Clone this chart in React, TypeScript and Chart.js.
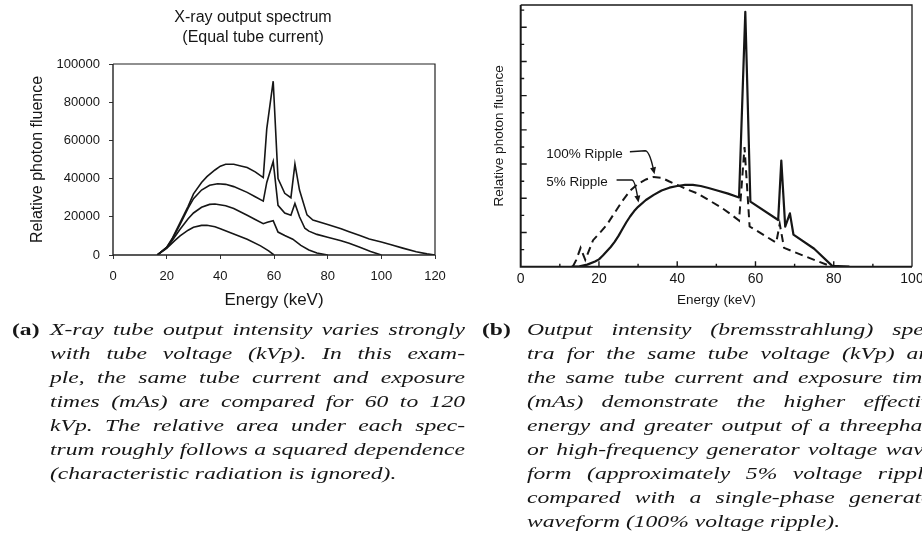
import React, { useEffect, useMemo, useRef } from 'react';
import { Chart, registerables } from 'chart.js';

Chart.register(...registerables);

// ---------------- Panel (a): X-ray output spectrum, equal tube current ----------------
const seriesLabelsA = ['60 kVp', '80 kVp', '100 kVp', '120 kVp'];

const energy60 = [16.5, 20, 23, 25, 28, 30, 33, 35, 38, 40, 45, 50, 55, 58, 60];
const fluence60 = [0, 3500, 7500, 10000, 13000, 14500, 15500, 15600, 14800, 13800, 11000, 8200, 4800, 2200, 0];

const energy80 = [16.5, 20, 22, 25, 28, 30, 33, 36, 38, 42, 45, 50, 53, 56, 57.5, 59.7, 61.5, 64, 67, 70, 73, 76, 80];
const fluence80 = [0, 3800, 7500, 13500, 19000, 22000, 25000, 26500, 26700, 25800, 24300, 20800, 18600, 16400, 17200, 18000, 12000, 10200, 8300, 5000, 2600, 1000, 0];

const energy100 = [16.5, 20, 22, 25, 28, 30, 33, 36, 39, 42, 45, 50, 53, 56, 57.3, 59.7, 61.5, 64, 66.3, 67.8, 69.5, 71.5, 73, 76, 80, 85, 88, 92, 96, 100];
const fluence100 = [0, 4000, 8000, 16000, 24500, 29500, 34000, 36500, 37300, 37000, 35800, 32800, 30500, 28200, 38000, 49000, 26000, 22000, 20800, 27000, 20000, 14000, 12500, 10800, 9300, 7500, 6100, 4000, 1800, 0];

const energy120 = [16.5, 20, 22, 25, 28, 30, 33, 35, 38, 40, 42, 45, 48, 50, 53, 56, 57.3, 59.7, 61.5, 64, 66.3, 67.8, 69.5, 72.3, 74.5, 80, 85, 88, 92, 95.5, 100, 104, 108, 113, 117, 120];
const fluence120 = [0, 4000, 8500, 17000, 25500, 32000, 38000, 41000, 44500, 46500, 47500, 47500, 46500, 45800, 43500, 40500, 66000, 91000, 40000, 32300, 30000, 47600, 34000, 21000, 18300, 16000, 13800, 12200, 10200, 8400, 6800, 5200, 3600, 1700, 600, 0];

const xTicksA = [0, 20, 40, 60, 80, 100, 120];
const yTicksA = [0, 20000, 40000, 60000, 80000, 100000];
const titleA = ['X-ray output spectrum', '(Equal tube current)'];

// ---------------- Panel (b): 5% vs 100% ripple ----------------
const energySolid = [13, 15, 17, 19, 20, 21, 22, 23, 24, 25, 26, 27, 28, 29, 30, 32, 34, 36, 38, 40, 42, 44, 46, 48, 50, 53, 55.8, 57.4, 58.7, 65.8, 66.6, 67.6, 68.8, 69.7, 75, 79.6, 84];
const fluenceSolid = [0, 0.02, 0.12, 0.3, 0.43, 0.65, 0.9, 1.15, 1.45, 1.8, 2.2, 2.6, 2.95, 3.25, 3.5, 3.9, 4.2, 4.45, 4.62, 4.72, 4.78, 4.78, 4.72, 4.6, 4.47, 4.27, 4.05, 14.9, 3.8, 2.73, 6.2, 2.34, 3.12, 1.88, 1.05, 0.05, 0];

const energyDashed = [13.3, 14.2, 15.3, 16.5, 18.5, 20.5, 22, 24, 26, 28, 30, 32, 34, 36, 38, 40, 42.5, 45, 48, 51, 53.5, 55.8, 57.2, 58.5, 60, 65.3, 66.2, 67.3, 70, 75, 79.5];
const fluenceDashed = [0, 0.4, 1.1, 0.4, 1.55, 2.05, 2.45, 3.15, 3.85, 4.45, 4.85, 5.1, 5.25, 5.2, 4.98, 4.78, 4.52, 4.3, 3.9, 3.5, 3.1, 2.7, 7.0, 2.35, 2.15, 1.4, 2.5, 1.1, 0.85, 0.4, 0];

const xTicksB = [0, 20, 40, 60, 80, 100];
const xMarksB = [10, 20, 30, 40, 50, 60, 70, 80, 90];
const yMarksB = [1, 2, 3, 4, 5, 6, 7, 8, 9, 10, 11, 12, 13, 14, 15];
const yMaxB = 15.3;

// annotation anchors in data units (keV, relative fluence)
const rippleNotes = [
  { text: '100% Ripple', textAt: [6.5, 6.55], start: [27.9, 6.72], bend: [31.8, 6.78], tip: [34.2, 5.4] },
  { text: '5% Ripple', textAt: [6.5, 4.94], start: [24.5, 5.07], bend: [28.4, 5.07], tip: [30.1, 3.75] },
];

// ---------------- Captions ----------------
const captionA = [
  'X-ray tube output intensity varies strongly',
  'with tube voltage (kVp). In this exam-',
  'ple, the same tube current and exposure',
  'times (mAs) are compared for 60 to 120',
  'kVp. The relative area under each spec-',
  'trum roughly follows a squared dependence',
  '(characteristic radiation is ignored).',
];
const captionB = [
  'Output intensity (bremsstrahlung) spec-',
  'tra for the same tube voltage (kVp) and',
  'the same tube current and exposure times',
  '(mAs) demonstrate the higher effective',
  'energy and greater output of a threephase',
  'or high-frequency generator voltage wave-',
  'form (approximately 5% voltage ripple)',
  'compared with a single-phase generator',
  'waveform (100% voltage ripple).',
];

const SANS = '"Liberation Sans", Arial, Helvetica, sans-serif';
const SERIF = '"Liberation Serif", "Times New Roman", serif';
const INK = '#161616';
const CAP_SIZE = 16;
const CAP_LINE = 24;
const CAP_W = 415;

const toPoints = (xs: number[], ys: number[]) => xs.map((x, i) => ({ x, y: ys[i] }));

const framePlugin = {
  id: 'frame',
  afterDatasetsDraw(chart: any, _args: any, opts: any) {
    const { ctx, chartArea: a } = chart;
    ctx.save();
    ctx.strokeStyle = opts.color || '#222';
    ctx.lineWidth = opts.thin || 1.2;
    ctx.beginPath();
    ctx.moveTo(a.left, a.top);
    ctx.lineTo(a.right, a.top);
    ctx.lineTo(a.right, a.bottom);
    ctx.stroke();
    ctx.lineWidth = opts.thick || 1.2;
    ctx.beginPath();
    ctx.moveTo(a.left, a.top);
    ctx.lineTo(a.left, a.bottom);
    ctx.lineTo(a.right, a.bottom);
    ctx.stroke();
    ctx.restore();
  },
};

const inwardTicksPlugin = {
  id: 'inwardTicks',
  afterDatasetsDraw(chart: any) {
    const { ctx, chartArea: a, scales } = chart;
    ctx.save();
    ctx.strokeStyle = INK;
    ctx.lineWidth = 1.4;
    ctx.beginPath();
    yMarksB.forEach((v) => {
      const y = scales.y.getPixelForValue(v);
      const len = v % 2 === 0 ? 6 : 3.5;
      ctx.moveTo(a.left, y);
      ctx.lineTo(a.left + len, y);
    });
    xMarksB.forEach((v) => {
      const x = scales.x.getPixelForValue(v);
      const len = v % 20 === 0 ? 5.5 : 3;
      ctx.moveTo(x, a.bottom);
      ctx.lineTo(x, a.bottom - len);
    });
    ctx.stroke();
    ctx.restore();
  },
};

const notesPlugin = {
  id: 'rippleNotes',
  afterDatasetsDraw(chart: any) {
    const { ctx, scales } = chart;
    const px = (p: number[]) => [scales.x.getPixelForValue(p[0]), scales.y.getPixelForValue(p[1])];
    ctx.save();
    ctx.fillStyle = INK;
    ctx.strokeStyle = INK;
    ctx.lineWidth = 1.4;
    ctx.font = `13.5px ${SANS}`;
    ctx.textAlign = 'left';
    ctx.textBaseline = 'middle';
    rippleNotes.forEach((n) => {
      const [tx, ty] = px(n.textAt);
      ctx.fillText(n.text, tx, ty);
      const [sx, sy] = px(n.start);
      const [bx, by] = px(n.bend);
      const [kx, ky] = px(n.tip);
      const cx = bx + (kx - bx) * 0.45;
      const cy = by;
      const ang = Math.atan2(ky - cy, kx - cx);
      const head = 7;
      const ex = kx - Math.cos(ang) * head * 0.8;
      const ey = ky - Math.sin(ang) * head * 0.8;
      ctx.beginPath();
      ctx.moveTo(sx, sy);
      ctx.lineTo(bx, by);
      ctx.quadraticCurveTo(cx, cy, ex, ey);
      ctx.stroke();
      ctx.beginPath();
      ctx.moveTo(kx, ky);
      ctx.lineTo(kx - Math.cos(ang) * head + Math.sin(ang) * 3, ky - Math.sin(ang) * head - Math.cos(ang) * 3);
      ctx.lineTo(kx - Math.cos(ang) * head - Math.sin(ang) * 3, ky - Math.sin(ang) * head + Math.cos(ang) * 3);
      ctx.closePath();
      ctx.fill();
    });
    ctx.restore();
  },
};

function Caption(props: { tag: string; lines: string[]; tagLeft: number; textLeft: number; top: number; scale: number }) {
  const { tag, lines, tagLeft, textLeft, top, scale } = props;
  return (
    <>
      <div
        style={{
          position: 'absolute', left: tagLeft, top, font: `bold ${CAP_SIZE}px ${SERIF}`, lineHeight: `${CAP_LINE}px`,
          transform: `scaleX(${scale})`, transformOrigin: '0 0', whiteSpace: 'nowrap', color: INK,
        }}
      >
        {tag}
      </div>
      {lines.map((l, i) => (
        <div
          key={i}
          style={{
            position: 'absolute', left: textLeft, top: top + i * CAP_LINE, width: CAP_W / scale,
            font: `italic ${CAP_SIZE}px ${SERIF}`, lineHeight: `${CAP_LINE}px`, color: INK,
            textAlign: 'justify', textAlignLast: i === lines.length - 1 ? 'left' : 'justify',
            whiteSpace: 'nowrap', transform: `scaleX(${scale})`, transformOrigin: '0 0',
          } as any}
        >
          {l}
        </div>
      ))}
    </>
  );
}

export default function App() {
  const refA = useRef<HTMLCanvasElement>(null);
  const refB = useRef<HTMLCanvasElement>(null);

  const scale = useMemo(() => {
    const ctx = document.createElement('canvas').getContext('2d');
    if (!ctx) return 1.25;
    ctx.font = `italic ${CAP_SIZE}px ${SERIF}`;
    const ratios = captionA.slice(0, -1).map((l) => CAP_W / ctx.measureText(l).width);
    return Math.min(...ratios) * 0.995;
  }, []);

  useEffect(() => {
    const tickFontA = { family: SANS, size: 13 };
    const lineA = (label: string, xs: number[], ys: number[]) => ({
      label, data: toPoints(xs, ys), borderColor: INK, borderWidth: 1.6, pointRadius: 0, tension: 0, fill: false,
    });
    const chartA = new Chart(refA.current as HTMLCanvasElement, {
      type: 'line',
      data: {
        datasets: [
          lineA(seriesLabelsA[0], energy60, fluence60),
          lineA(seriesLabelsA[1], energy80, fluence80),
          lineA(seriesLabelsA[2], energy100, fluence100),
          lineA(seriesLabelsA[3], energy120, fluence120),
        ],
      },
      options: {
        responsive: false,
        animation: false,
        devicePixelRatio: 1,
        layout: { padding: 0 },
        plugins: {
          legend: { display: false },
          tooltip: { enabled: false },
          title: {
            display: true, text: titleA, color: INK,
            font: { family: SANS, size: 16, weight: 'normal', lineHeight: 1.2 },
            padding: { top: 8.4, bottom: 17.2 },
          },
          frame: { color: '#222', thin: 1.2, thick: 1.4 },
        } as any,
        scales: {
          x: {
            type: 'linear', min: 0, max: 120,
            afterBuildTicks: (s: any) => { s.ticks = xTicksA.map((v) => ({ value: v })); },
            afterFit: (s: any) => { s.height = 65; s.paddingLeft = 0; s.paddingRight = 0; },
            ticks: { font: tickFontA, color: INK, padding: 10, maxRotation: 0, autoSkip: false, callback: (v: any) => String(v) },
            grid: { display: true, drawOnChartArea: false, drawTicks: true, tickLength: 4, color: '#333' },
            border: { display: false },
            title: { display: true, text: 'Energy (keV)', color: INK, font: { family: SANS, size: 17 }, padding: { top: 0, bottom: 9.8 } },
          },
          y: {
            type: 'linear', min: 0, max: 100000,
            afterBuildTicks: (s: any) => { s.ticks = yTicksA.map((v) => ({ value: v })); },
            afterFit: (s: any) => { s.width = 113; s.paddingTop = 0; s.paddingBottom = 0; },
            ticks: { font: tickFontA, color: INK, padding: 9, autoSkip: false, callback: (v: any) => String(v) },
            grid: { display: true, drawOnChartArea: false, drawTicks: true, tickLength: 4, color: '#333' },
            border: { display: false },
            title: { display: true, text: 'Relative photon fluence', color: INK, font: { family: SANS, size: 16 }, padding: { top: 28.4, bottom: 0 } },
          },
          yR: {
            type: 'linear', position: 'right', display: true,
            ticks: { display: false },
            grid: { display: false, drawTicks: false },
            border: { display: false },
            afterFit: (s: any) => { s.width = 71; },
          },
        } as any,
      },
      plugins: [framePlugin],
    } as any);

    const chartB = new Chart(refB.current as HTMLCanvasElement, {
      type: 'line',
      data: {
        datasets: [
          {
            label: '5% Ripple', data: toPoints(energySolid, fluenceSolid), borderColor: INK, borderWidth: 2.2,
            pointRadius: 0, tension: 0, fill: false, borderJoinStyle: 'round',
          },
          {
            label: '100% Ripple', data: toPoints(energyDashed, fluenceDashed), borderColor: INK, borderWidth: 2,
            borderDash: [8, 5], pointRadius: 0, tension: 0, fill: false,
          },
        ],
      },
      options: {
        responsive: false,
        animation: false,
        devicePixelRatio: 1,
        layout: { padding: { top: 5, right: 10, left: 0, bottom: 0 } },
        plugins: {
          legend: { display: false },
          tooltip: { enabled: false },
          title: { display: false },
          frame: { color: '#1a1a1a', thin: 1.3, thick: 2 },
        } as any,
        scales: {
          x: {
            type: 'linear', min: 0, max: 100,
            afterBuildTicks: (s: any) => { s.ticks = xTicksB.map((v) => ({ value: v })); },
            afterFit: (s: any) => { s.height = 48.3; s.paddingLeft = 0; s.paddingRight = 0; },
            ticks: { font: { family: SANS, size: 14 }, color: INK, padding: 3.9, maxRotation: 0, autoSkip: false, callback: (v: any) => String(v) },
            grid: { display: false, drawTicks: false },
            border: { display: false },
            title: { display: true, text: 'Energy (keV)', color: INK, font: { family: SANS, size: 13.5 }, padding: { top: 0, bottom: 6.9 } },
          },
          y: {
            type: 'linear', min: 0, max: yMaxB,
            afterFit: (s: any) => { s.width = 50.7; s.paddingTop = 0; s.paddingBottom = 0; },
            ticks: { display: false },
            grid: { display: false, drawTicks: false },
            border: { display: false },
            title: { display: true, text: 'Relative photon fluence', color: INK, font: { family: SANS, size: 13.5 }, padding: { top: 21, bottom: 0 } },
          },
        } as any,
      },
      plugins: [framePlugin, inwardTicksPlugin, notesPlugin],
    } as any);

    return () => {
      chartA.destroy();
      chartB.destroy();
    };
  }, []);

  return (
    <div style={{ position: 'absolute', left: 0, top: 0, width: 922, height: 547, overflow: 'hidden', background: '#fff' }}>
      <canvas ref={refA} width={506} height={320} style={{ position: 'absolute', left: 0, top: 0 }} />
      <canvas ref={refB} width={452} height={315} style={{ position: 'absolute', left: 470, top: 0 }} />
      <Caption tag="(a)" lines={captionA} tagLeft={12} textLeft={50} top={318} scale={scale} />
      <Caption tag="(b)" lines={captionB} tagLeft={482} textLeft={527} top={318} scale={scale} />
    </div>
  );
}
